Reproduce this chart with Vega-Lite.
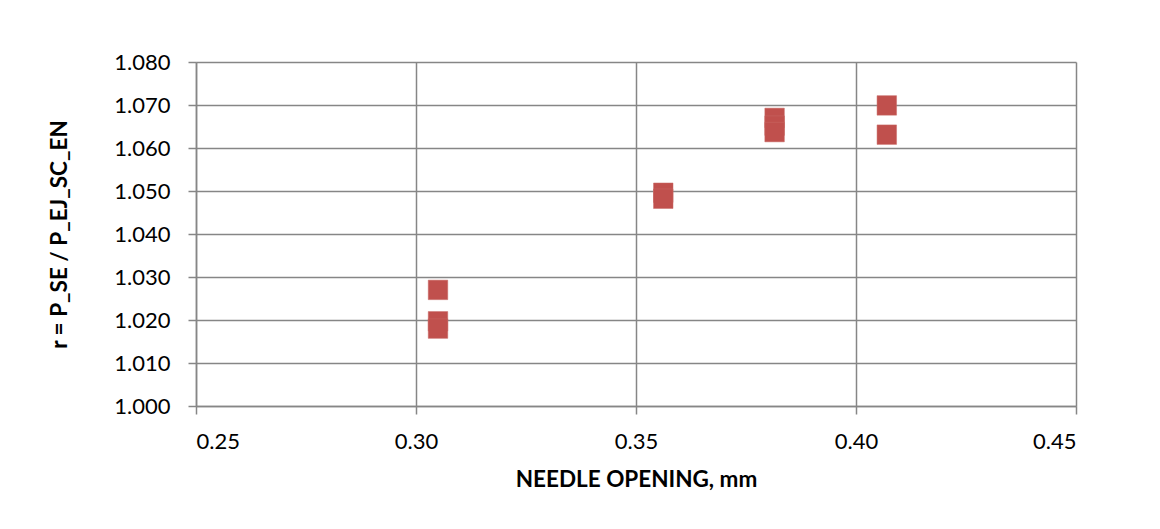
{
  "$schema": "https://vega.github.io/schema/vega-lite/v6.json",
  "autosize": {"type": "none"},
  "padding": {"left": 196, "top": 62, "right": 84, "bottom": 123},
  "width": 880,
  "height": 344,
  "background": "white",
  "config": {
    "view": {"stroke": null},
    "font": "Lato",
    "axis": {
      "gridColor": "#868686",
      "gridWidth": 1.5,
      "gridOpacity": 1,
      "domainColor": "#868686",
      "domainWidth": 1.5,
      "tickColor": "#868686",
      "tickWidth": 1.5,
      "tickSize": 8,
      "labelColor": "#000000",
      "labelFont": "Lato",
      "labelFontSize": 22,
      "titleColor": "#000000",
      "titleFont": "Lato",
      "titleFontSize": 22.5,
      "titleFontWeight": "bold"
    }
  },
  "data": {
    "values": [
      {"opening": 0.305, "r": 1.027},
      {"opening": 0.305, "r": 1.0197},
      {"opening": 0.305, "r": 1.018},
      {"opening": 0.3562, "r": 1.0496},
      {"opening": 0.3562, "r": 1.0482},
      {"opening": 0.3815, "r": 1.067},
      {"opening": 0.3815, "r": 1.0652},
      {"opening": 0.3815, "r": 1.0637},
      {"opening": 0.407, "r": 1.0699},
      {"opening": 0.407, "r": 1.0631}
    ]
  },
  "mark": {"type": "square", "size": 380, "fill": "#C0504D", "stroke": "#C86A67", "strokeWidth": 0.5, "opacity": 1},
  "encoding": {
    "x": {
      "field": "opening",
      "type": "quantitative",
      "title": "NEEDLE OPENING, mm",
      "scale": {"domain": [0.25, 0.45], "nice": false, "zero": false},
      "axis": {"values": [0.25, 0.3, 0.35, 0.4, 0.45], "format": ".2f", "labelPadding": 17, "titlePadding": 16}
    },
    "y": {
      "field": "r",
      "type": "quantitative",
      "title": "r = P_SE / P_EJ_SC_EN",
      "scale": {"domain": [1.0, 1.08], "nice": false, "zero": false},
      "axis": {"values": [1.0, 1.01, 1.02, 1.03, 1.04, 1.05, 1.06, 1.07, 1.08], "format": ".3f", "labelPadding": 18, "titlePadding": 42}
    }
  }
}
